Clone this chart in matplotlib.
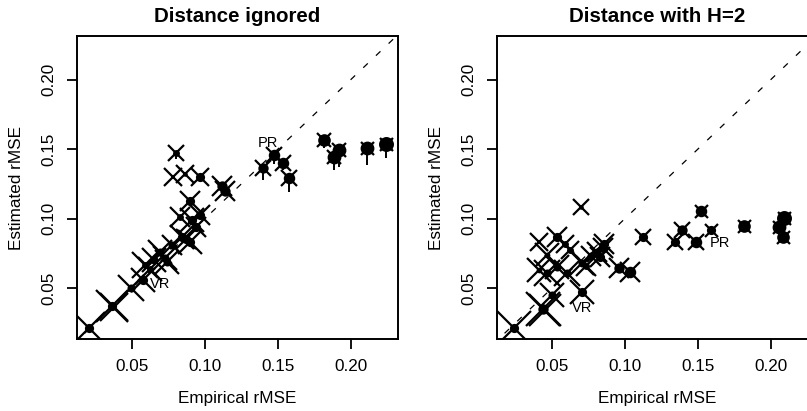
import numpy as np
import matplotlib
matplotlib.use("Agg")
import matplotlib.pyplot as plt

plt.rcParams['font.family'] = ['Liberation Sans', 'DejaVu Sans']

# ---- data: panel 1, distance ignored ----
emp_ign = [0.0202, 0.0362, 0.0378, 0.0495, 0.0576, 0.0592, 0.0620, 0.0649, 0.0695,
           0.0729, 0.0740, 0.0775, 0.0844, 0.0870, 0.0900, 0.0910, 0.0940, 0.0968,
           0.0830, 0.0899, 0.1117, 0.1135, 0.0784, 0.0865, 0.0968, 0.0803, 0.1400,
           0.1472, 0.1537, 0.1580, 0.1820, 0.1884, 0.1920, 0.2114, 0.2240]
est_ign = [0.0214, 0.0373, 0.0362, 0.0498, 0.0558, 0.0665, 0.0640, 0.0700, 0.0761,
           0.0713, 0.0690, 0.0810, 0.0869, 0.0850, 0.0830, 0.0989, 0.0940, 0.1026,
           0.1013, 0.1126, 0.1234, 0.1200, 0.1300, 0.1320, 0.1300, 0.1476, 0.1361,
           0.1457, 0.1404, 0.1290, 0.1565, 0.1445, 0.1493, 0.1505, 0.1540]
low_ign = [np.nan] * 25 + [0.1430, 0.1277, 0.1390, 0.1350, 0.1190, 0.1510, 0.1350,
                           0.1370, 0.1385, 0.1435]
cross_ign = [24, 24, 22, 20, 18, 20, 18, 18, 18, 18, 18, 16, 18, 16, 18, 18, 16, 16,
             16, 16, 16, 16, 14, 14, 14, 12, 12, 12, 12, 12, 11, 11, 11, 10, 10]
dot_ign = [8, 8, 0, 7, 8, 6, 6, 7, 7, 7, 7, 7, 8, 8, 8, 8, 8, 8,
           6, 8, 9, 9, 2, 4, 8, 6, 9, 10, 10, 10, 11, 12, 12, 12, 13]

# ---- data: panel 2, distance with H=2 ----
emp_h2 = [0.0236, 0.0438, 0.0452, 0.0500, 0.0702, 0.0408, 0.0534, 0.0592, 0.0626,
          0.0466, 0.0534, 0.0466, 0.0408, 0.0603, 0.0707, 0.0735, 0.0770, 0.0810,
          0.0857, 0.0830, 0.0850, 0.0960, 0.1033, 0.1125, 0.1341, 0.1394, 0.1486,
          0.1520, 0.1590, 0.1820, 0.2060, 0.2095, 0.2084, 0.0700]
est_h2 = [0.0210, 0.0347, 0.0340, 0.0450, 0.0473, 0.0833, 0.0869, 0.0820, 0.0773,
          0.0737, 0.0653, 0.0605, 0.0629, 0.0605, 0.0678, 0.0660, 0.0730, 0.0761,
          0.0820, 0.0720, 0.0790, 0.0642, 0.0617, 0.0869, 0.0833, 0.0917, 0.0833,
          0.1054, 0.0917, 0.0946, 0.0941, 0.1001, 0.0869, 0.1085]
cross_h2 = [26, 26, 24, 18, 18, 14, 16, 14, 14, 18, 18, 20, 18, 20, 18, 16, 16, 16,
            16, 16, 16, 16, 16, 12, 12, 12, 12, 10, 10, 10, 10, 10, 10, 12]
dot_h2 = [8, 9, 0, 7, 8, 0, 8, 6, 6, 5, 7, 7, 5, 7, 7, 6, 7, 7,
          8, 8, 8, 9, 10, 8, 8, 9, 10, 10, 8, 11, 12, 13, 11, 4]

labels_ign = {'VR': (0.0695, 0.0530), 'PR': (0.1435, 0.1545)}
labels_h2 = {'VR': (0.0705, 0.0356), 'PR': (0.1650, 0.0825)}

xlim = (0.0122, 0.2325)
ylim = (0.0133, 0.2315)
ticks = [0.05, 0.10, 0.15, 0.20]

fig = plt.figure(figsize=(8.07, 4.11), dpi=100)
ax1 = fig.add_axes([77 / 807, 1 - 339 / 411, 321 / 807, 303 / 411])
ax2 = fig.add_axes([497 / 807, 1 - 339 / 411, 321 / 807, 303 / 411])

CROSS_PT = 0.72 * 1.3   # marker points per unit of cross size
DOT_PT = 0.72 * 1.15


def panel(ax, emp, est, cross, dot, low, labels, title):
    ax.plot([0, 1], [0, 1], color='black', lw=0.9, dashes=(5, 9), zorder=1)
    for i in range(len(emp)):
        if low is not None and not np.isnan(low[i]):
            ax.plot([emp[i], emp[i]], [low[i], est[i]], color='black', lw=1.4,
                    solid_capstyle='butt', zorder=2)
        ax.plot(emp[i], est[i], marker='x', ms=cross[i] * CROSS_PT, mew=1.6,
                color='black', ls='none', zorder=3)
        if dot[i] > 0:
            ax.plot(emp[i], est[i], marker='o', ms=dot[i] * DOT_PT, mew=0,
                    color='black', ls='none', zorder=4)
    for name, (x, y) in labels.items():
        ax.text(x, y, name, fontsize=10.5, ha='center', va='center', zorder=5)

    ax.set_xlim(xlim)
    ax.set_ylim(ylim)
    ax.set_xticks(ticks)
    ax.set_yticks(ticks)
    ax.set_xticklabels(['%.2f' % t for t in ticks])
    ax.set_yticklabels(['%.2f' % t for t in ticks], rotation=90, va='center')
    ax.tick_params(direction='out', length=7.5, width=1.3, labelsize=12.3, pad=7)
    for s in ax.spines.values():
        s.set_linewidth(1.4)
    ax.set_xlabel('Empirical rMSE', fontsize=12.3, labelpad=12)
    ax.set_ylabel('Estimated rMSE', fontsize=12.3, labelpad=13)
    ax.set_title(title, fontsize=14.8, fontweight='bold', pad=10)


panel(ax1, emp_ign, est_ign, cross_ign, dot_ign, low_ign, labels_ign, 'Distance ignored')
panel(ax2, emp_h2, est_h2, cross_h2, dot_h2, None, labels_h2, 'Distance with H=2')

fig.savefig('out.png', dpi=100)
